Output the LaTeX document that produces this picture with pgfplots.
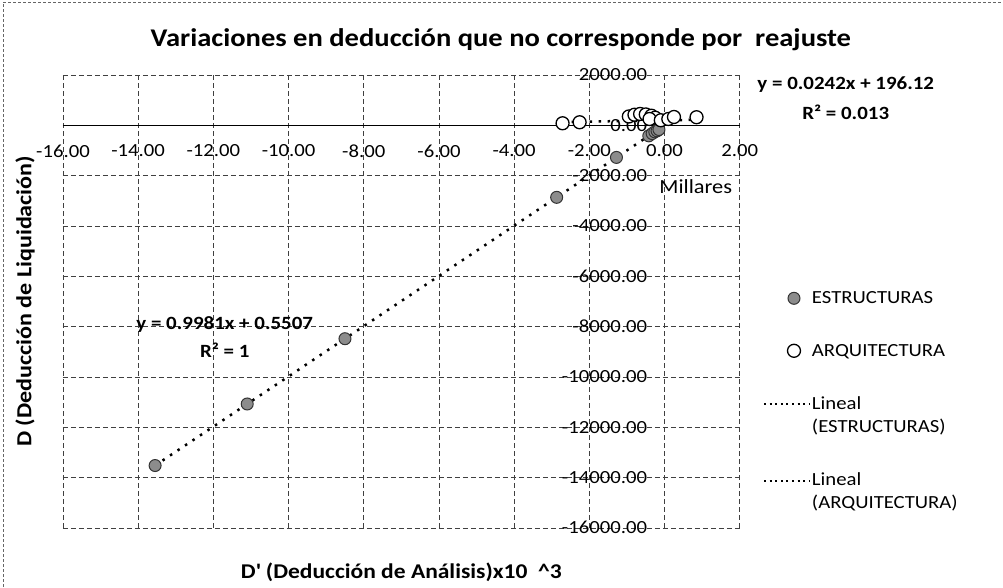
\documentclass[border=0pt]{standalone}
\usepackage{fontspec}
\setmainfont{Carlito}[FakeStretch=1.12]
\usepackage{pgfplots}
\pgfplotsset{compat=1.18}

\pgfplotsset{
  trend/.style={black, line width=2.5pt, dash pattern=on 2.5pt off 6.5pt,
    legend image code/.code={\path[draw=none, fill=none] (0pt,-12.5pt) rectangle (45pt,12.5pt);
      \draw[##1, line width=2pt, dash pattern=on 2pt off 3.6pt] (0pt,11pt) -- (45pt,11pt);}},
  dots/.style={only marks,
    legend image code/.code={\path[draw=none, fill=none] (0pt,-6pt) rectangle (45pt,6pt);
      \draw[mark repeat=2, mark phase=2, ##1] plot coordinates {(0pt,0pt) (30pt,0pt) (45pt,0pt)};}},
}

\begin{document}
\begin{tikzpicture}
\begin{axis}[
  scale only axis, width=677pt, height=453pt,
  xmin=-16000, xmax=2000, ymin=-16000, ymax=2000,
  axis x line=middle, axis y line=middle,
  x axis line style={-, black, line width=1.2pt},
  y axis line style={draw=none},
  hide obscured x ticks=false, hide obscured y ticks=false,
  scaled x ticks=false, scaled y ticks=false,
  xtick={-16000,-14000,...,2000},
  xticklabels={-16.00,-14.00,-12.00,-10.00,-8.00,-6.00,-4.00,-2.00,0.00,2.00},
  ytick={-16000,-14000,...,2000},
  yticklabels={-16000.00,-14000.00,-12000.00,-10000.00,-8000.00,-6000.00,-4000.00,-2000.00,0.00,2000.00},
  major tick length=0pt,
  grid=major,
  grid style={black!75, line width=0.6pt, dash pattern=on 5pt off 3pt},
  tick label style={font=\fontsize{18.5}{22}\selectfont},
  xticklabel style={yshift=-16pt},
  yticklabel style={xshift=-14pt},
  /pgf/number format/assume math mode=true,
  clip=false,
  legend style={at={(1.0296,0.531)}, anchor=north west, draw=none, fill=none,
    font=\fontsize{18.5}{23}\selectfont, row sep=35pt,
    cells={align=left}},
  legend cell align=left,
]

% ESTRUCTURAS
\addplot[dots, mark=*, mark size=6pt, mark options={fill=black!45, draw=black!80, line width=1pt}]
  coordinates {
  (-13550,-13524) (-11100,-11078) (-8500,-8483) (-2870,-2864) (-1280,-1277)
  (-420,-420) (-330,-330) (-260,-260) (-200,-220) (-150,-170)
};
\addlegendentry{ESTRUCTURAS}

% ARQUITECTURA
\addplot[dots, mark=*, mark size=6.5pt, mark options={fill=white, draw=black, line width=1.3pt}]
  coordinates {
  (-2713,80) (-2260,120) (-950,350) (-800,420) (-650,450) (-500,430)
  (-350,380) (-250,300) (-400,250) (-100,200) (100,250) (250,330) (850,320)
};
\addlegendentry{ARQUITECTURA}

% tendencias lineales (extremos)
\addplot[trend] coordinates {(-13550,-13523.7) (-150,-149.2)};
\addlegendentry{Lineal\\(ESTRUCTURAS)}
\addplot[trend] coordinates {(-2713,130.5) (850,216.7)};
\addlegendentry{Lineal\\(ARQUITECTURA)}

% textos
\node[font=\fontsize{25.5}{30}\selectfont\bfseries] at (axis description cs:0.647,1.0773)
  {Variaciones en deducción que no corresponde por\ \ reajuste};
\node[font=\fontsize{21.5}{25}\selectfont\bfseries, rotate=90] at (axis description cs:-0.0561,0.5)
  {D (Deducción de Liquidación)};
\node[font=\fontsize{21}{25}\selectfont\bfseries] at (axis description cs:0.5,-0.0993)
  {D\textquotesingle{} (Deducción de Análisis)x10\ \ \^{}3};
\node[font=\fontsize{20}{24}\selectfont] at (axis description cs:0.935,0.753) {Millares};
\node[font=\fontsize{18.7}{22}\selectfont\bfseries] at (axis description cs:0.239,0.448) {y = 0.9981x + 0.5507};
\node[font=\fontsize{18.7}{22}\selectfont\bfseries] at (axis description cs:0.239,0.393) {R² = 1};
\node[font=\fontsize{18.7}{22}\selectfont\bfseries] at (axis description cs:1.1566,0.978) {y = 0.0242x + 196.12};
\node[font=\fontsize{18.7}{22}\selectfont\bfseries] at (axis description cs:1.1566,0.918) {R² = 0.013};

% marco
\draw[black!60, dash pattern=on 3pt off 2pt, line width=0.6pt]
  (axis description cs:-0.0885,-0.1302) -- (axis description cs:-0.0885,1.1611)
  -- (axis description cs:1.3885,1.1611);
\path (axis description cs:-0.09306,-0.13024) rectangle (axis description cs:1.38848,1.16556);
\end{axis}
\end{tikzpicture}
\end{document}
